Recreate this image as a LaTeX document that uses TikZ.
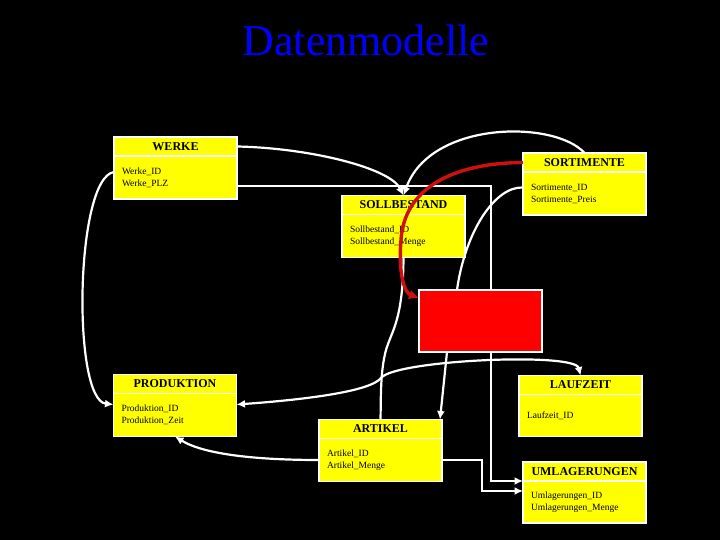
\documentclass[tikz,border=0pt]{standalone}
\usepackage{fontspec}
\setmainfont{Liberation Serif}
\usetikzlibrary{arrows.meta,positioning,backgrounds}
\definecolor{DmYellow}{HTML}{FFFF00}
\definecolor{DmRed}{HTML}{FF0000}
\definecolor{DmDarkRed}{HTML}{D01010}
\definecolor{DmBlue}{HTML}{0000FF}
\tikzset{
  head/.style={draw=white,line width=1.8pt,fill=DmYellow,outer sep=0pt,inner sep=0pt,
    minimum width=123pt,minimum height=19pt,font=\fontsize{12}{12}\selectfont\bfseries},
  body/.style={draw=white,line width=1.8pt,fill=DmYellow,outer sep=0pt,inner xsep=8pt,
    inner ysep=0pt,text width=107pt,minimum height=43pt,align=left,
    font=\fontsize{9.5}{12}\selectfont},
  redbox/.style={draw=white,line width=1.8pt,fill=DmRed,outer sep=0pt,
    minimum width=123pt,minimum height=62pt},
  link/.style={draw=white,line width=2.2pt},
  flow/.style={link,-{Latex[length=8.5pt,width=8pt]}},
  redflow/.style={-{Latex[length=10pt,width=10pt]},draw=DmDarkRed,line width=3.4pt}
}

\begin{document}
\begin{tikzpicture}[x=1pt,y=-1pt]
  \node[font=\fontsize{44}{44}\selectfont,text=DmBlue] (title) at (366,40) {Datenmodelle};
  % entities: header + attribute part
  \node[head] (werke) at (175.5,146.5) {WERKE};
  \node[body,below=0pt of werke] (werke-b) {Werke\_ID\\Werke\_PLZ};
  \node[head] (sorti) at (584.5,162.5) {SORTIMENTE};
  \node[body,below=0pt of sorti] (sorti-b) {Sortimente\_ID\\Sortimente\_Preis};
  \node[head] (soll) at (403.5,205) {SOLLBESTAND};
  \node[body,below=0pt of soll] (soll-b) {Sollbestand\_ID\\Sollbestand\_Menge};
  \node[redbox] (red) at (480.5,321) {};
  \node[head] (prod) at (175,384) {PRODUKTION};
  \node[body,below=0pt of prod] (prod-b) {Produktion\_ID\\Produktion\_Zeit};
  \node[head] (artikel) at (380.5,429) {ARTIKEL};
  \node[body,below=0pt of artikel] (artikel-b) {Artikel\_ID\\Artikel\_Menge};
  \node[head] (lauf) at (580.5,385) {LAUFZEIT};
  \node[body,below=0pt of lauf,minimum height=42pt] (lauf-b) {Laufzeit\_ID};
  \node[head] (umlag) at (584.5,471.5) {UMLAGERUNGEN};
  \node[body,below=0pt of umlag,minimum height=42pt] (umlag-b) {Umlagerungen\_ID\\Umlagerungen\_Menge};

  \begin{scope}[on background layer]
    \fill[black] (0,0) rectangle (720,540);
    \draw[flow] (werke.east) .. controls (310,148) and (390,168) .. (soll.north);
    \draw[flow] (sorti.north) .. controls (555,120) and (430,120) .. (soll.north);
    \draw[flow] ([yshift=-8.5pt]werke-b.east) -| ([xshift=-32pt]umlag-b.north west) -- (umlag-b.north west);
    \draw[flow] (artikel-b.east) -- ++(40,0) |- ([yshift=11pt]umlag-b.west);
    \draw[flow] ([yshift=5.5pt]werke-b.west) .. controls (75,178) and (72,400) .. ([yshift=10.5pt]prod-b.west);
    \draw[flow] (artikel-b.west) .. controls (260,460) and (205,455) .. (prod-b.south);
    \draw[link] (soll-b.south) .. controls (403,320) and (392,330) .. (386,350)
      .. controls (380,372) and (381,400) .. (artikel.north);
    \draw[flow] ([xshift=-33.5pt]red.south) -- ([xshift=-2pt]artikel.north east);
    \draw[link] ([yshift=6pt]sorti-b.west) .. controls (495,186) and (465,232) .. ([xshift=-23.5pt]red.north);
    \draw[link,{Latex[length=8.5pt,width=8pt]}-{Latex[length=8.5pt,width=8pt]}] ([yshift=10.5pt]prod-b.east)
      .. controls (300,400) and (370,392) .. (381,378)
      .. controls (395,360) and (575,352) .. (lauf.north);
  \end{scope}

  \draw[redflow] (sorti.west) .. controls (450,163) and (404,190) .. (401,240)
    .. controls (398,275) and (405,293) .. ([yshift=-8pt]red.north west);
\end{tikzpicture}
\end{document}
